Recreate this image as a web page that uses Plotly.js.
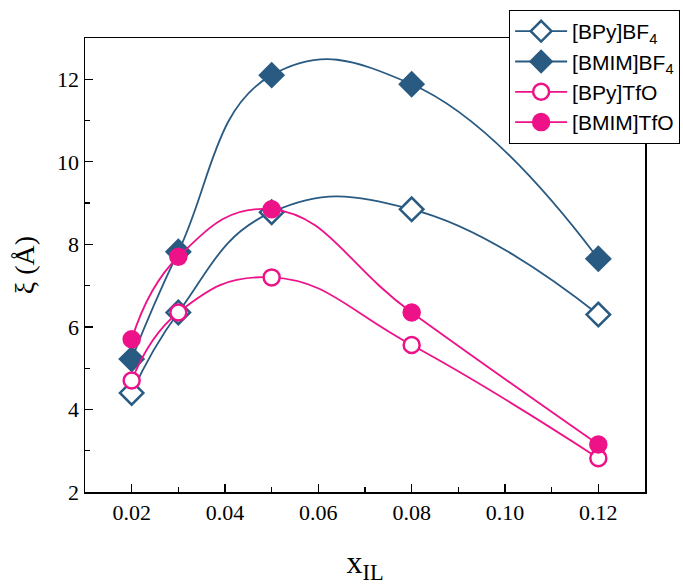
<!DOCTYPE html>
<html><head><meta charset="utf-8">
<script src="https://cdn.plot.ly/plotly-3.0.1.min.js"></script>
<style>body{margin:0;background:#fff;overflow:hidden}#c{width:683px;height:585px}</style>
</head><body><div id="c"></div>
<script>
const xIL = [0.02, 0.03, 0.05, 0.08, 0.12];
const bpyBF4 = [4.4, 6.35, 8.78, 8.85, 6.3];
const bmimBF4 = [5.22, 7.82, 12.1, 11.88, 7.65];
const bpyTfO = [4.7, 6.35, 7.2, 5.56, 2.82];
const bmimTfO = [5.7, 7.7, 8.85, 6.35, 3.15];
const names = ['[BPy]BF<sub>4</sub>', '[BMIM]BF<sub>4</sub>', '[BPy]TfO', '[BMIM]TfO'];
const blue = '#295a82', pink = '#ee1289';

function tr(y, name, color, sym, open) {
  return {x: xIL, y: y, name: name, mode: 'lines+markers',
    line: {shape: 'spline', smoothing: 1.3, color: color, width: 1.8},
    marker: {symbol: sym, size: sym === 'diamond' ? 18 : 16,
      color: open ? '#fff' : color,
      line: {color: color, width: 2.5}}};
}
const data = [
  tr(bpyBF4, names[0], blue, 'diamond', true),
  tr(bmimBF4, names[1], blue, 'diamond', false),
  tr(bpyTfO, names[2], pink, 'circle', true),
  tr(bmimTfO, names[3], pink, 'circle', false)
];

const serif = 'Liberation Serif, Times New Roman, serif';
const tickFont = {family: serif, size: 22, color: '#000'};
const layout = {
  width: 683, height: 585,
  font: {family: serif, color: '#000'},
  margin: {l: 85, r: 38, t: 38, b: 93, autoexpand: false},
  paper_bgcolor: '#fff', plot_bgcolor: '#fff',
  showlegend: true,
  legend: {x: 0.757, y: 1.062, xanchor: 'left', yanchor: 'top',
    bordercolor: '#000', borderwidth: 1.2, bgcolor: '#fff',
    font: {family: 'Liberation Sans, Arial, sans-serif', size: 21, color: '#000'},
    tracegroupgap: 0, itemwidth: 52},
  xaxis: {range: [0.01, 0.13], tickvals: [0.02, 0.04, 0.06, 0.08, 0.1, 0.12],
    ticktext: ['0.02', '0.04', '0.06', '0.08', '0.10', '0.12'],
    ticks: 'inside', ticklen: 8, tickwidth: 1.2, tickcolor: '#000',
    minor: {dtick: 0.01, tick0: 0.01, ticks: 'inside', ticklen: 5, tickcolor: '#000', tickwidth: 1.2},
    showline: true, linecolor: '#000', linewidth: 1.5, mirror: true,
    showgrid: false, zeroline: false, tickfont: tickFont,
    title: {text: 'x<sub>IL</sub>', font: {family: serif, size: 32, color: '#000'}, standoff: 30}},
  yaxis: {range: [2, 13], tickvals: [2, 4, 6, 8, 10, 12],
    ticks: 'inside', ticklen: 8, tickwidth: 1.2, tickcolor: '#000',
    minor: {dtick: 1, tick0: 2, ticks: 'inside', ticklen: 5, tickcolor: '#000', tickwidth: 1.2},
    showline: true, linecolor: '#000', linewidth: 1.5, mirror: true,
    showgrid: false, zeroline: false, tickfont: tickFont,
    title: {text: 'ξ (Å)', font: {family: serif, size: 28, color: '#000'}, standoff: 14}}
};
Plotly.newPlot('c', data, layout, {displayModeBar: false, staticPlot: true});
</script></body></html>
